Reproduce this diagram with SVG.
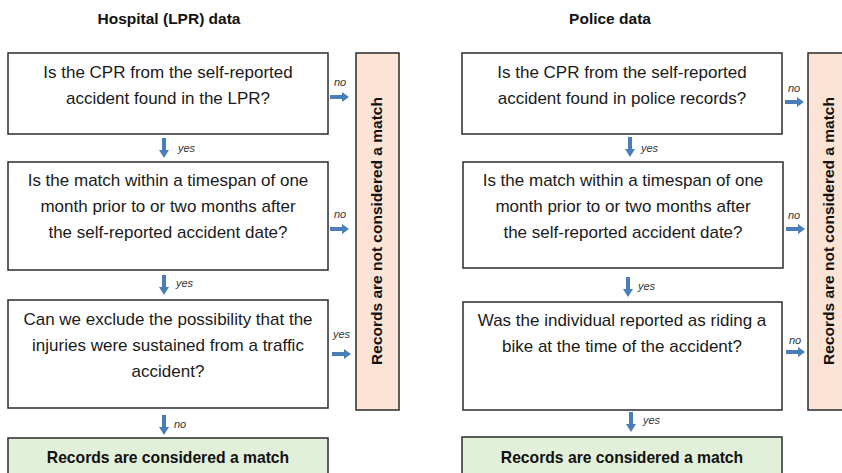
<svg xmlns="http://www.w3.org/2000/svg" width="842" height="473" viewBox="0 0 842 473">
<defs>
<style>
.box{fill:#fff;stroke:#2b2b2b;stroke-width:1.5}
.no{fill:#fbe3d5;stroke:#2b2b2b;stroke-width:1.5}
.ok{fill:#e2efd9;stroke:#2b2b2b;stroke-width:1.5}
.t{font-family:"Liberation Sans",Arial,sans-serif;font-size:17px;fill:#1a1a1a;text-anchor:middle}
.b{font-family:"Liberation Sans",Arial,sans-serif;font-weight:bold;fill:#111;text-anchor:middle}
.lab{font-family:"Liberation Sans",Arial,sans-serif;font-style:italic;font-size:11px;fill:#333}
.arr{fill:#4a7ebb}
</style>
<path id="down" class="arr" d="M-2,0 H2 V12 H5 L0,20 L-5,12 H-2 Z"/>
<path id="right" class="arr" d="M0,-2 V2 H12 V5 L19,0 L12,-5 V-2 Z"/>
</defs>

<text class="b" x="169" y="24" font-size="15.5">Hospital (LPR) data</text>
<text class="b" x="610" y="24" font-size="15.5">Police data</text>

<g id="h-q1">
<rect class="box" x="8" y="53" width="320" height="81"/>
<text class="t" x="168" y="78">Is the CPR from the self-reported</text>
<text class="t" x="168" y="104">accident found in the LPR?</text>
</g>
<g id="h-q2">
<rect class="box" x="8" y="162" width="320" height="108"/>
<text class="t" x="168" y="186">Is the match within a timespan of one</text>
<text class="t" x="168" y="212">month prior to or two months after</text>
<text class="t" x="168" y="238">the self-reported accident date?</text>
</g>
<g id="h-q3">
<rect class="box" x="8" y="300" width="320" height="108"/>
<text class="t" x="168" y="325">Can we exclude the possibility that the</text>
<text class="t" x="168" y="351">injuries were sustained from a traffic</text>
<text class="t" x="168" y="377">accident?</text>
</g>
<g id="h-match">
<rect class="ok" x="8" y="438" width="320" height="50"/>
<text class="b" x="168" y="463" font-size="15.7">Records are considered a match</text>
</g>
<g id="h-nomatch">
<rect class="no" x="356" y="53" width="43" height="357"/>
<text class="b" font-size="15.5" transform="translate(382,231) rotate(-90)">Records are not considered a match</text>
</g>

<g id="p-q1">
<rect class="box" x="462" y="53" width="320" height="81"/>
<text class="t" x="622" y="78">Is the CPR from the self-reported</text>
<text class="t" x="622" y="104">accident found in police records?</text>
</g>
<g id="p-q2">
<rect class="box" x="463" y="162" width="320" height="106"/>
<text class="t" x="623" y="186">Is the match within a timespan of one</text>
<text class="t" x="623" y="212">month prior to or two months after</text>
<text class="t" x="623" y="238">the self-reported accident date?</text>
</g>
<g id="p-q3">
<rect class="box" x="463" y="302" width="319" height="108"/>
<text class="t" x="622" y="326">Was the individual reported as riding a</text>
<text class="t" x="622" y="352">bike at the time of the accident?</text>
</g>
<g id="p-match">
<rect class="ok" x="462" y="437" width="320" height="50"/>
<text class="b" x="622" y="463" font-size="15.7">Records are considered a match</text>
</g>
<g id="p-nomatch">
<rect class="no" x="808" y="53" width="43" height="357"/>
<text class="b" font-size="15.5" transform="translate(834,231) rotate(-90)">Records are not considered a match</text>
</g>

<g id="connectors">
<use href="#down" x="164" y="138"/>
<text class="lab" x="178" y="152">yes</text>
<use href="#down" x="164" y="275"/>
<text class="lab" x="176" y="287">yes</text>
<use href="#down" x="164" y="415"/>
<text class="lab" x="174" y="428">no</text>
<use href="#right" x="330" y="97"/>
<text class="lab" x="334" y="86">no</text>
<use href="#right" x="330" y="229"/>
<text class="lab" x="334" y="218">no</text>
<use href="#right" x="332" y="354"/>
<text class="lab" x="333" y="338">yes</text>

<use href="#down" x="630" y="137"/>
<text class="lab" x="641" y="152">yes</text>
<use href="#down" x="628" y="277"/>
<text class="lab" x="638" y="290">yes</text>
<use href="#down" x="631" y="412"/>
<text class="lab" x="643" y="424">yes</text>
<use href="#right" x="785" y="102"/>
<text class="lab" x="788" y="92">no</text>
<use href="#right" x="786" y="229"/>
<text class="lab" x="788" y="219">no</text>
<use href="#right" x="786" y="352"/>
<text class="lab" x="789" y="344">no</text>
</g>
</svg>
